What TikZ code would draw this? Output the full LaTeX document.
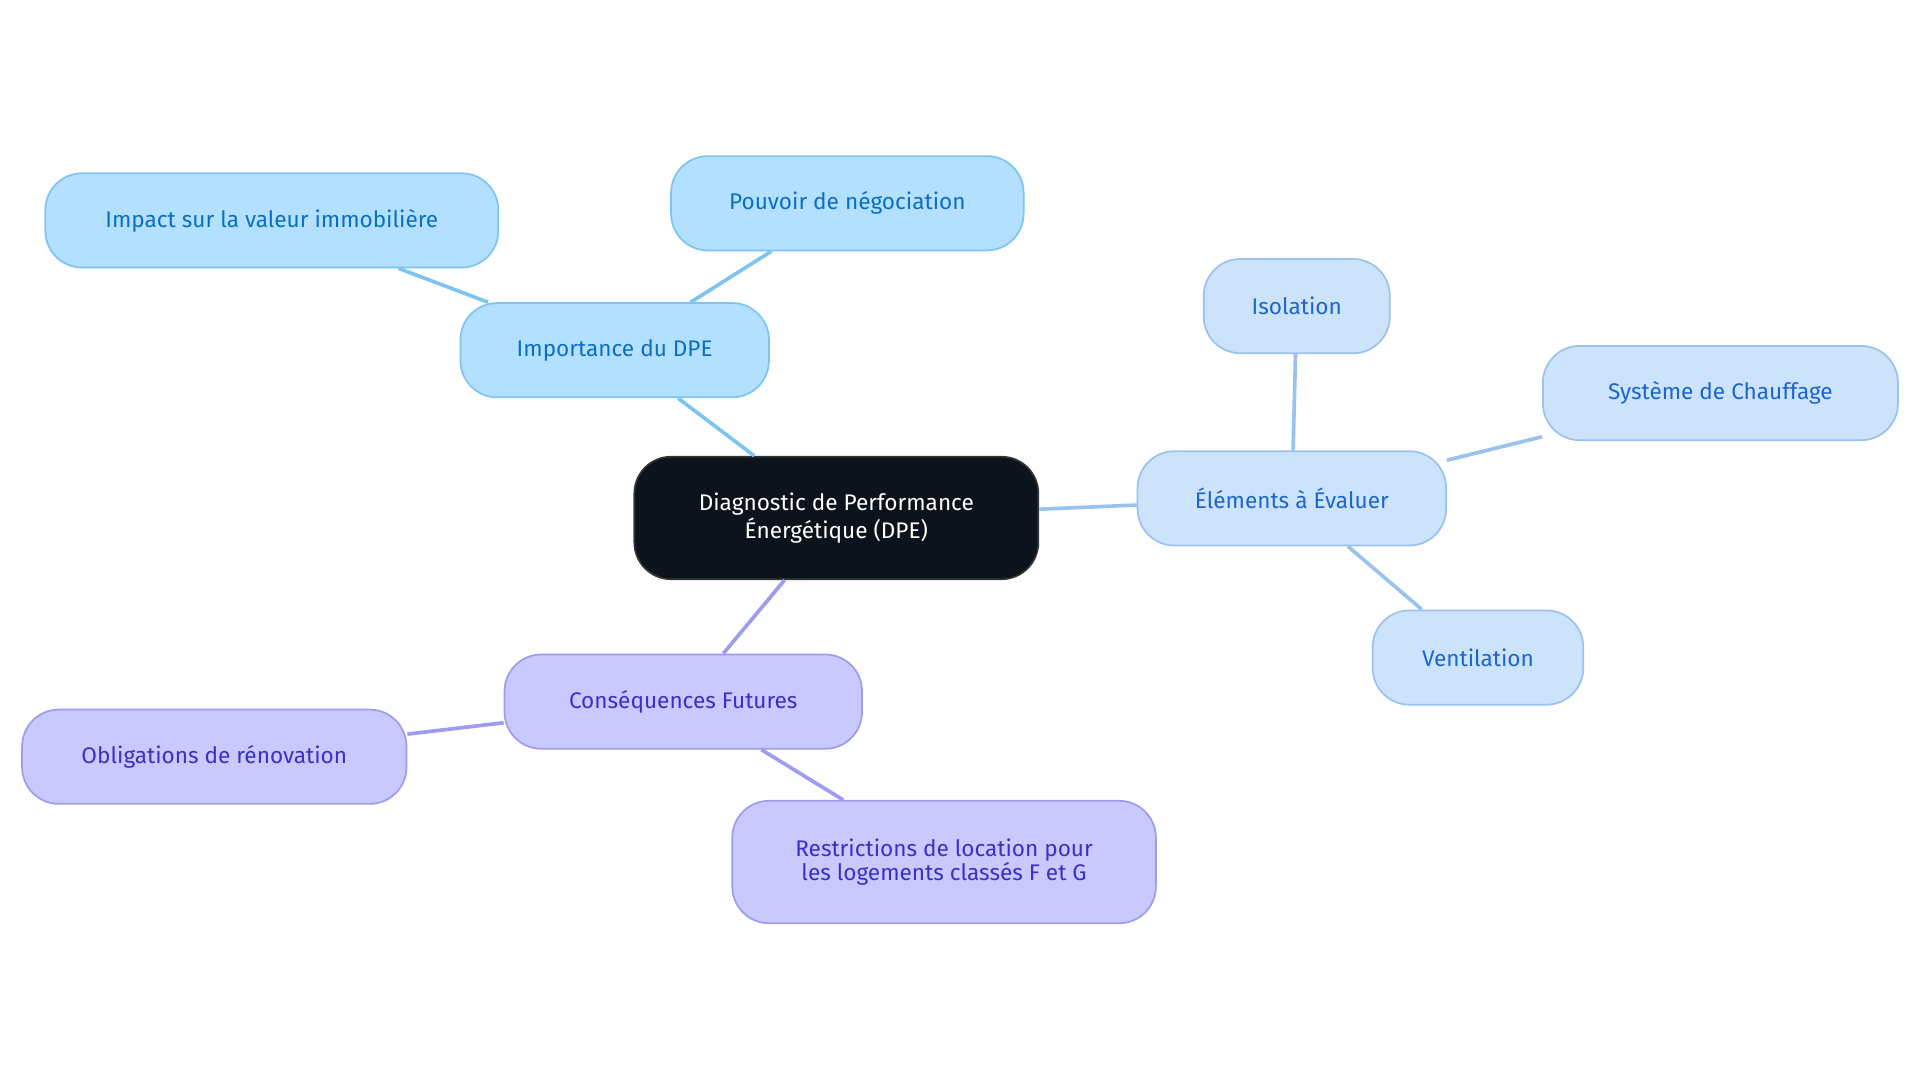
\documentclass[tikz,border=0pt]{standalone}
\usepackage{fontspec}
\setmainfont{Fira Sans}
\usetikzlibrary{positioning}
\definecolor{rootfill}{HTML}{0C131C}
\definecolor{skyfill}{HTML}{B3E0FF}
\definecolor{skydraw}{HTML}{7EC4F0}
\definecolor{skytext}{HTML}{0A6FC2}
\definecolor{palefill}{HTML}{CDE3FB}
\definecolor{paledraw}{HTML}{99C2EF}
\definecolor{paletext}{HTML}{1A66CC}
\definecolor{violfill}{HTML}{C9C9FD}
\definecolor{violdraw}{HTML}{9D9CF0}
\definecolor{violtext}{HTML}{3A2FC7}

\begin{document}
\begin{tikzpicture}[x=0.02cm,y=-0.02cm,font=\fontsize{10.5}{11}\selectfont]
\useasboundingbox (0,0) rectangle (1568,885);
\tikzset{box/.style={rounded corners=0.6cm,thick,minimum height=1.54cm,align=center,inner sep=0pt}}
\begin{scope}[every node/.style={box}]
    \node[fill=rootfill,draw=black!80,text=white,minimum width=6.6cm,minimum height=2cm] (R) at (683,423) {Diagnostic de Performance\\Énergétique (DPE)};
\end{scope}
\begin{scope}[every node/.style={box,fill=skyfill,draw=skydraw,text=skytext}]
    \node[minimum width=5.04cm] (I) at (502,286) {Importance du DPE};
    \node[minimum width=7.4cm] (I1) at (222,180) {Impact sur la valeur immobilière};
    \node[minimum width=5.76cm] (I2) at (692,166) {Pouvoir de négociation};
\end{scope}
\begin{scope}[every node/.style={box,fill=palefill,draw=paledraw,text=paletext}]
    \node[minimum width=5.04cm] (E) at (1055,407) {Éléments à Évaluer};
    \node[minimum width=3.04cm] (E1) at (1059,250) {Isolation};
    \node[minimum width=5.8cm] (E2) at (1405,321) {Système de Chauffage};
    \node[minimum width=3.44cm] (E3) at (1207,537) {Ventilation};
\end{scope}
\begin{scope}[every node/.style={box,fill=violfill,draw=violdraw,text=violtext}]
    \node[minimum width=5.84cm] (C) at (558,573) {Conséquences Futures};
    \node[minimum width=6.28cm] (C1) at (175,618) {Obligations de rénovation};
    \node[minimum width=6.92cm,minimum height=2cm] (C2) at (771,704) {Restrictions de location pour\\les logements classés F et G};
\end{scope}
\begin{scope}[line width=1.7pt]
    \draw[skydraw] (R) -- (I) (I) -- (I1) (I) -- (I2);
    \draw[paledraw] (R) -- (E) (E) -- (E1) (E) -- (E2) (E) -- (E3);
    \draw[violdraw] (R) -- (C) (C) -- (C1) (C) -- (C2);
\end{scope}
\end{tikzpicture}
\end{document}
